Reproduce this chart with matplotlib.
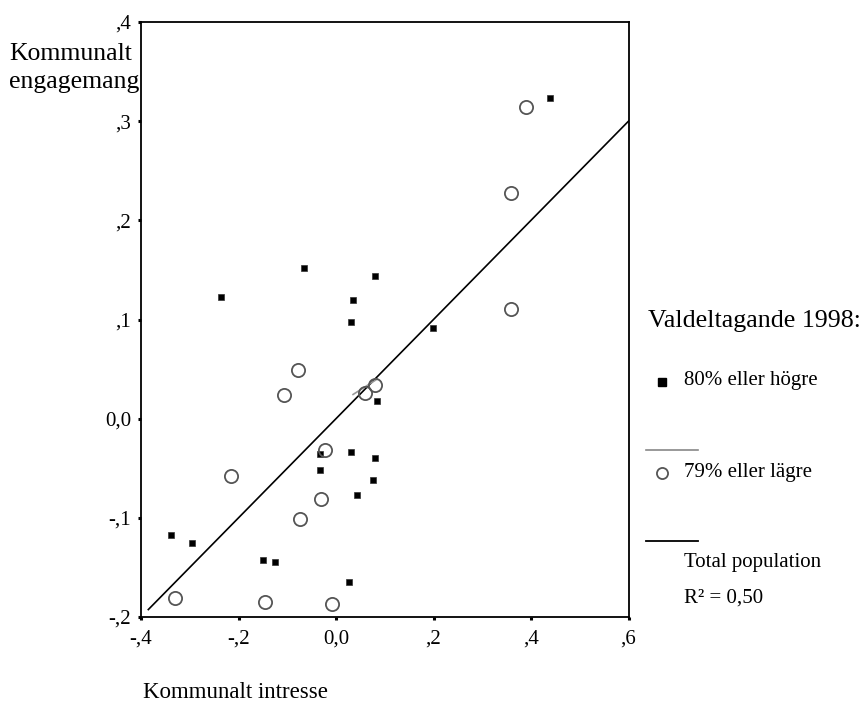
import numpy as np
import matplotlib
matplotlib.use('Agg')
import matplotlib.pyplot as plt
from matplotlib.lines import Line2D

# Valdeltagande 80% eller högre
high_x = [0.439, -0.065, 0.080, -0.235, 0.035, 0.031, 0.198, 0.084, -0.033, 0.031,
          0.080, -0.033, 0.076, 0.043, -0.339, -0.296, -0.150, -0.125, 0.027]
high_y = [0.323, 0.152, 0.144, 0.123, 0.120, 0.097, 0.091, 0.018, -0.036, -0.034,
          -0.040, -0.052, -0.062, -0.077, -0.117, -0.125, -0.143, -0.145, -0.165]

# Valdeltagande 79% eller lägre
low_x = [0.390, 0.358, 0.358, -0.077, -0.107, 0.060, 0.080, -0.022, -0.215, -0.030,
         -0.074, -0.331, -0.146, -0.009]
low_y = [0.314, 0.228, 0.111, 0.049, 0.024, 0.026, 0.034, -0.032, -0.058, -0.081,
         -0.101, -0.181, -0.185, -0.187]

# fit lines (slope, intercept, x-range)
total_fit = (0.5, 0.0, [-0.385, 0.6])
low_fit = (0.314, 0.0134, [0.035, 0.085])

x_ticks = [-0.4, -0.2, 0.0, 0.2, 0.4, 0.6]
x_tick_labels = ['-,4', '-,2', '0,0', ',2', ',4', ',6']
y_ticks = [-0.2, -0.1, 0.0, 0.1, 0.2, 0.3, 0.4]
y_tick_labels = ['-,2', '-,1', '0,0', ',1', ',2', ',3', ',4']

plt.rcParams['font.family'] = ['Liberation Serif', 'DejaVu Serif']

fig = plt.figure(figsize=(8.66, 7.06), dpi=100)
W, H = 866, 706
ax = fig.add_axes([141 / W, 1 - 617 / H, 487.5 / W, 595 / H])

# fit lines
xs = np.array(total_fit[2])
ax.plot(xs, total_fit[0] * xs + total_fit[1], color='black', lw=1.2, zorder=2)
xs = np.array(low_fit[2])
ax.plot(xs, low_fit[0] * xs + low_fit[1], color='#999999', lw=1.2, zorder=2)

ax.plot(high_x, high_y, ls='none', marker='s', ms=5, mfc='black', mec='#333333',
        mew=0.5, zorder=3)
ax.plot(low_x, low_y, ls='none', marker='o', ms=9.5, mfc='none', mec='#555555',
        mew=1.3, zorder=3)

ax.set_xlim(-0.4, 0.6)
ax.set_ylim(-0.2, 0.4)
ax.set_xticks(x_ticks)
ax.set_xticklabels(x_tick_labels)
ax.set_yticks(y_ticks)
ax.set_yticklabels(y_tick_labels)
ax.tick_params(direction='out', length=2.2, width=2.2, labelsize=15, pad=5,
               colors='black')
ax.tick_params(axis='x', pad=7)
for sp in ax.spines.values():
    sp.set_linewidth(1.3)

# axis titles
fig.text(9 / W, 1 - 68 / H, 'Kommunalt\nengagemang', ha='left', va='center',
         fontsize=18.5, linespacing=1.38, multialignment='left')
fig.text(143 / W, 1 - 692 / H, 'Kommunalt intresse', ha='left', va='center',
         fontsize=16.5)

# legend drawn by hand
tx = 684 / W
fig.text(648 / W, 1 - 321 / H, 'Valdeltagande 1998:', ha='left', va='center',
         fontsize=18.7)
fig.add_artist(Line2D([662 / W], [1 - 381.5 / H], marker='s', ms=5.5, color='black',
                      transform=fig.transFigure))
fig.text(tx, 1 - 381 / H, '80% eller högre', ha='left', va='center', fontsize=15)
fig.add_artist(Line2D([646 / W, 698 / W], [1 - 450 / H] * 2, color='#888888', lw=1.2,
                      transform=fig.transFigure))
fig.add_artist(Line2D([662 / W], [1 - 473 / H], marker='o', ms=8, mfc='none',
                      mec='#555555', mew=1.3, transform=fig.transFigure))
fig.text(tx, 1 - 473 / H, '79% eller lägre', ha='left', va='center', fontsize=15)
fig.add_artist(Line2D([646 / W, 698 / W], [1 - 541 / H] * 2, color='black', lw=1.3,
                      transform=fig.transFigure))
fig.text(tx, 1 - 562 / H, 'Total population', ha='left', va='center', fontsize=15)
fig.text(tx, 1 - 598 / H, 'R² = 0,50', ha='left', va='center', fontsize=15)

fig.savefig('out.png', dpi=100)
